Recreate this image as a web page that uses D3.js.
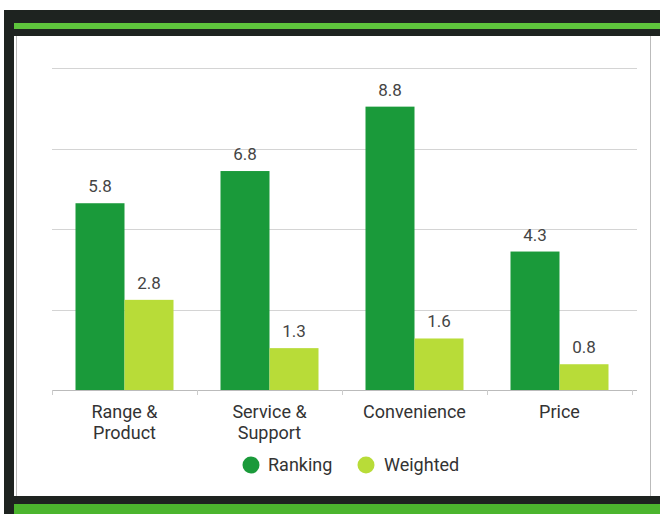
<!DOCTYPE html>
<html><head><meta charset="utf-8">
<script src="https://cdn.jsdelivr.net/npm/d3@7"></script>
<style>
html,body{margin:0;padding:0;background:#fff;}
svg{display:block;font-family:Roboto,"Noto Sans",sans-serif;}
</style></head>
<body><svg id="c" width="660" height="514"></svg>
<script>
const categories = ["Range & Product", "Service & Support", "Convenience", "Price"];
const categoryLines = [["Range &", "Product"], ["Service &", "Support"], ["Convenience"], ["Price"]];
const series = ["Ranking", "Weighted"];
const ranking = [5.8, 6.8, 8.8, 4.3];
const weighted = [2.8, 1.3, 1.6, 0.8];
const gridTicks = [0, 2.5, 5, 7.5, 10];
const colors = ["#1a9a3a", "#b8dc38"];

const svg = d3.select("#c");
// frame
svg.append("rect").attr("x",4).attr("y",10).attr("width",656).attr("height",26).attr("fill","#1e2320");
svg.append("rect").attr("x",12).attr("y",23).attr("width",648).attr("height",6).attr("fill","#5ec43c");
svg.append("rect").attr("x",4).attr("y",10).attr("width",10).attr("height",504).attr("fill","#1e2320");
svg.append("rect").attr("x",4).attr("y",496).attr("width",656).attr("height",18).attr("fill","#1e2320");
svg.append("rect").attr("x",14).attr("y",504).attr("width",646).attr("height",10).attr("fill","#4cb52e");
svg.append("line").attr("x1",16.5).attr("x2",16.5).attr("y1",36).attr("y2",496).attr("stroke","#bbb");
svg.append("line").attr("x1",650.5).attr("x2",650.5).attr("y1",36).attr("y2",496).attr("stroke","#bbb");

const y = d3.scaleLinear().domain([0,10]).range([390,68]);
const x0 = d3.scaleBand().domain(categories).range([52,632]);
const x1 = d3.scaleBand().domain(series).range([23.5, x0.bandwidth()-23.5]);

// grid
svg.append("g").selectAll("line").data(gridTicks).join("line")
  .attr("x1",52).attr("x2",637)
  .attr("y1",d=>Math.round(y(d))+0.5).attr("y2",d=>Math.round(y(d))+0.5)
  .attr("stroke",d=>d===0?"#bbb":"#d4d4d4").attr("stroke-width",1);

// ticks at band boundaries
const bounds = categories.map(c=>x0(c)).concat([x0.range()[1]]);
svg.append("g").selectAll("line").data(bounds).join("line")
  .attr("x1",d=>Math.round(d)+0.5).attr("x2",d=>Math.round(d)+0.5)
  .attr("y1",390).attr("y2",395).attr("stroke","#ccc");

const data = categories.map((c,i)=>({cat:c, vals:[ranking[i], weighted[i]]}));
const g = svg.append("g").selectAll("g").data(data).join("g")
  .attr("transform",d=>`translate(${x0(d.cat)},0)`);
g.selectAll("rect").data(d=>d.vals.map((v,j)=>({s:series[j],v,j}))).join("rect")
  .attr("x",d=>x1(d.s)).attr("width",x1.bandwidth())
  .attr("y",d=>y(d.v)).attr("height",d=>y(0)-y(d.v))
  .attr("fill",d=>colors[d.j]);
g.selectAll("text").data(d=>d.vals.map((v,j)=>({s:series[j],v,j}))).join("text")
  .attr("x",d=>x1(d.s)+x1.bandwidth()/2).attr("y",d=>y(d.v)-11)
  .attr("text-anchor","middle").attr("font-size",17).attr("fill","#444")
  .text(d=>d.v.toFixed(1));

// category labels
const lab = svg.append("g").selectAll("text").data(categories).join("text")
  .attr("text-anchor","middle").attr("font-size",18).attr("fill","#333")
  .attr("x",d=>x0(d)+x0.bandwidth()/2).attr("y",418);
lab.each(function(d,i){
  d3.select(this).selectAll("tspan").data(categoryLines[i]).join("tspan")
    .attr("x",x0(d)+x0.bandwidth()/2).attr("dy",(t,k)=>k===0?0:21).text(t=>t);
});

// legend
const leg = [{s:"Ranking",cx:251,tx:268},{s:"Weighted",cx:366,tx:384}];
const lg = svg.append("g").selectAll("g").data(leg).join("g");
lg.append("circle").attr("cx",d=>d.cx).attr("cy",465).attr("r",8.5).attr("fill",(d,i)=>colors[i]);
lg.append("text").attr("x",d=>d.tx).attr("y",471).attr("font-size",18).attr("fill","#333").text(d=>d.s);
</script></body></html>
